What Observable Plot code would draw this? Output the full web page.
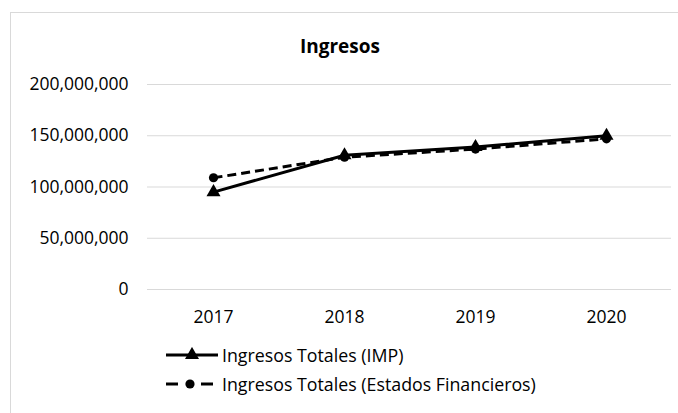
<!DOCTYPE html>
<html>
<head>
<meta charset="utf-8">
<script src="https://cdn.jsdelivr.net/npm/d3@7"></script>
<script src="https://cdn.jsdelivr.net/npm/@observablehq/plot@0.6"></script>
<style>
  html, body { margin: 0; padding: 0; background: #fff; }
  #wrap { position: relative; width: 678px; height: 413px; overflow: hidden; font-family: "Open Sans", sans-serif; color: #000; }
  #frame { position: absolute; left: 10px; top: 12px; width: 700px; height: 420px; border: 1px solid #d9d9d9; box-sizing: border-box; }
  #title { position: absolute; left: 0; width: 680px; top: 33px; text-align: center; font-weight: bold; font-size: 19px; line-height: 26px; }
  #chart { position: absolute; left: 0; top: 0; }
  .leg { position: absolute; left: 166px; height: 24px; display: flex; align-items: center; font-size: 17.8px; white-space: nowrap; }
</style>
</head>
<body>
<div id="wrap">
  <div id="frame"></div>
  <div id="chart"></div>
  <div id="title">Ingresos</div>
  <div id="legend"></div>
</div>
<script>
const years = ["2017", "2018", "2019", "2020"];
const impValues = [95000000, 131000000, 139000000, 150000000];
const efValues = [109000000, 129000000, 137000000, 147000000];
const yTicks = [0, 50000000, 100000000, 150000000, 200000000];
const seriesNames = ["Ingresos Totales (IMP)", "Ingresos Totales (Estados Financieros)"];

const imp = years.map((y, i) => ({year: y, value: impValues[i]}));
const ef = years.map((y, i) => ({year: y, value: efValues[i]}));

const fmt = d3.format(",");

const plot = Plot.plot({
  width: 678,
  height: 340,
  marginTop: 84,
  marginBottom: 51,
  marginLeft: 147,
  marginRight: 7,
  style: {fontFamily: "Open Sans, sans-serif", fontSize: "17.5px", color: "#000", background: "transparent"},
  x: {type: "point", domain: years, padding: 0.5, label: null},
  y: {domain: [0, 200000000], label: null},
  marks: [
    Plot.gridY(yTicks, {stroke: "#d9d9d9", strokeOpacity: 1, strokeWidth: 1}),
    Plot.axisY(yTicks, {tickSize: 0, tickPadding: 19, tickFormat: fmt, label: null, fontSize: 17.5}),
    Plot.axisX({tickSize: 0, tickPadding: 21, label: null, fontSize: 17.5}),
    Plot.line(ef, {x: "year", y: "value", stroke: "#000", strokeWidth: 3, strokeDasharray: "9,5", strokeLinecap: "butt"}),
    Plot.dot(ef, {x: "year", y: "value", r: 4.6, fill: "#000", stroke: "none", symbol: "circle"}),
    Plot.line(imp, {x: "year", y: "value", stroke: "#000", strokeWidth: 3}),
    Plot.dot(imp, {x: "year", y: "value", r: 5.2, fill: "#000", stroke: "none", symbol: "triangle"})
  ]
});
document.getElementById("chart").appendChild(plot);

// Legend
const legend = document.getElementById("legend");
const legTops = [343, 372];
const ns = "http://www.w3.org/2000/svg";
function seg(s, x1, x2) {
  const ln = document.createElementNS(ns, "line");
  ln.setAttribute("x1", x1); ln.setAttribute("x2", x2); ln.setAttribute("y1", 8); ln.setAttribute("y2", 8);
  ln.setAttribute("stroke", "#000"); ln.setAttribute("stroke-width", 3);
  s.appendChild(ln);
}
seriesNames.forEach((name, i) => {
  const div = document.createElement("div");
  div.className = "leg";
  div.style.top = legTops[i] + "px";
  const s = document.createElementNS(ns, "svg");
  s.setAttribute("width", 52); s.setAttribute("height", 16);
  s.style.marginRight = "4px";
  if (i === 0) {
    seg(s, 0, 52);
    const sym = document.createElementNS(ns, "path");
    sym.setAttribute("d", d3.symbol(d3.symbolTriangle, 5.2 * 5.2 * Math.PI)());
    sym.setAttribute("transform", "translate(26,8)");
    s.appendChild(sym);
  } else {
    seg(s, 0, 12);
    seg(s, 35, 47);
    const c = document.createElementNS(ns, "circle");
    c.setAttribute("cx", 24); c.setAttribute("cy", 8); c.setAttribute("r", 4.6);
    s.appendChild(c);
  }
  div.appendChild(s);
  const t = document.createElement("span");
  t.textContent = name;
  div.appendChild(t);
  legend.appendChild(div);
});
</script>
</body>
</html>
